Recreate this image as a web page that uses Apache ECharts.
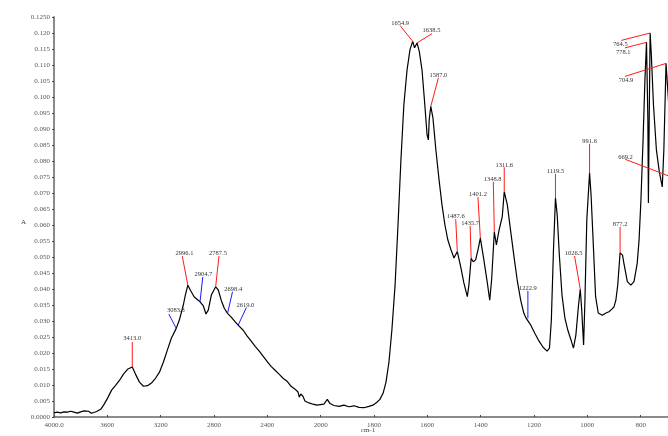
<!DOCTYPE html>
<html>
<head>
<meta charset="utf-8">
<script src="https://cdn.jsdelivr.net/npm/echarts@6/dist/echarts.min.js"></script>
<style>
  html, body { margin: 0; padding: 0; background: #fff; }
  #chart { width: 668px; height: 436px; }
</style>
</head>
<body>
<div id="chart"></div>
<script>
// IR absorbance spectrum (wavenumber in cm-1, absorbance A)
const wavenumbers = [
  4000, 3975, 3950, 3925, 3900, 3875, 3850, 3825, 3800, 3775, 3760, 3740, 3720, 3700, 3680, 3665, 3650,
  3628, 3598, 3568, 3538, 3508, 3479, 3449, 3413.0, 3389, 3359, 3329, 3299, 3269, 3239, 3209, 3180,
  3150, 3120, 3083.3, 3060, 3030, 3015, 2996.1, 2977, 2948, 2904.7, 2880, 2860, 2843, 2820, 2787.5,
  2768, 2746, 2723, 2698.4, 2671, 2641, 2619.0, 2581, 2551, 2521, 2491, 2461, 2432, 2402, 2372, 2342,
  2312, 2282, 2252, 2222, 2192, 2170, 2160, 2150, 2133, 2118, 2103, 2088, 2073, 2058, 2043, 2028, 2013,
  1988, 1975, 1965, 1950, 1931, 1913, 1894, 1875, 1856, 1838, 1819, 1804, 1789, 1778, 1766, 1755,
  1744, 1733, 1721, 1710, 1699, 1688, 1676, 1665, 1654.9, 1648, 1638.5, 1630, 1620, 1611, 1601, 1596,
  1593, 1587.0, 1579, 1568, 1556, 1545, 1534, 1523, 1511, 1500, 1495, 1487.6, 1475, 1463, 1450, 1444,
  1435.7, 1428, 1419, 1410, 1401.2, 1388, 1375, 1366, 1359, 1348.8, 1341, 1331, 1319, 1311.6, 1300,
  1288, 1275, 1263, 1250, 1238, 1229, 1222.9, 1212, 1197, 1181, 1166, 1151, 1142, 1135, 1127, 1119.5,
  1113, 1105, 1095, 1084, 1073, 1061, 1052, 1043, 1033, 1026.5, 1021, 1014, 1009, 1002, 991.6, 986,
  980, 969, 959, 944, 930, 919, 908, 900, 893, 886, 877.2, 868, 863, 850, 837, 825, 813, 806, 799,
  791, 784, 778.1, 773, 771, 768, 764.5, 760, 752, 741, 730, 719, 713, 704.9, 696, 681, 669.2, 650,
  620, 600
];
const absorbance = [
  0.0013, 0.0015, 0.0013, 0.0016, 0.0015, 0.0018, 0.0015, 0.0012, 0.0016, 0.0019, 0.0014, 0.0018, 0.0012, 0.0014, 0.0017, 0.0019, 0.0024,
  0.0037, 0.0059, 0.0084, 0.0099, 0.0115, 0.0134, 0.0149, 0.0156, 0.0134, 0.0109, 0.0096, 0.0098, 0.0106, 0.0121, 0.0140, 0.0171,
  0.0209, 0.0246, 0.0277, 0.0303, 0.0350, 0.0381, 0.0412, 0.0396, 0.0375, 0.0360, 0.0347, 0.0322, 0.0334, 0.0381, 0.0407,
  0.0397, 0.0365, 0.0340, 0.0324, 0.0312, 0.0297, 0.0287, 0.0271, 0.0253, 0.0237, 0.0221, 0.0206, 0.0190, 0.0174, 0.0158, 0.0146,
  0.0134, 0.0121, 0.0112, 0.0096, 0.0087, 0.0078, 0.0062, 0.0072, 0.0065, 0.0050, 0.0056, 0.0044, 0.0049, 0.0040, 0.0046, 0.0037, 0.0043,
  0.0040, 0.0055, 0.0042, 0.0036, 0.0033, 0.0037, 0.0032, 0.0035, 0.0030, 0.0029, 0.0033, 0.0037, 0.0046, 0.0055, 0.0074, 0.0109,
  0.0171, 0.0271, 0.0412, 0.0600, 0.0804, 0.0976, 0.1085, 0.1148, 0.1174, 0.1154, 0.1169, 0.1142, 0.1085, 0.0992, 0.0882, 0.0866,
  0.0929, 0.0971, 0.0935, 0.0835, 0.0741, 0.0663, 0.0600, 0.0553, 0.0522, 0.0497, 0.0500, 0.0517, 0.0470, 0.0419, 0.0376, 0.0413,
  0.0496, 0.0485, 0.0491, 0.0522, 0.0559, 0.0491, 0.0419, 0.0365, 0.0428, 0.0579, 0.0538, 0.0584, 0.0626, 0.0704, 0.0663,
  0.0584, 0.0501, 0.0428, 0.0365, 0.0324, 0.0308, 0.0308, 0.0287, 0.0262, 0.0237, 0.0218, 0.0206, 0.0215, 0.0302, 0.0522, 0.0684,
  0.0631, 0.0506, 0.0381, 0.0309, 0.0271, 0.0240, 0.0215, 0.0256, 0.0350, 0.0399, 0.0334, 0.0225, 0.0365, 0.0616, 0.0762, 0.0694,
  0.0584, 0.0376, 0.0325, 0.0318, 0.0325, 0.0329, 0.0337, 0.0344, 0.0365, 0.0412, 0.0513, 0.0506, 0.0481, 0.0423, 0.0412, 0.0423, 0.0480, 0.0553, 0.0678,
  0.0866, 0.1054, 0.1171, 0.0929, 0.0669, 0.0929, 0.1200, 0.1132, 0.0976, 0.0835, 0.0766, 0.0719, 0.0835, 0.1105, 0.0992, 0.0835, 0.0745, 0.0663,
  0.0584, 0.0537
];

// Picked bands: red = peak, blue = shoulder
const peakPositions = [
  3413.0, 3083.3, 2996.1, 2904.7, 2787.5, 2698.4, 2619.0,
  1654.9, 1638.5, 1587.0, 1487.6, 1435.7, 1401.2, 1348.8, 1311.6, 1222.9,
  1119.5, 1026.5, 991.6, 877.2, 778.1, 764.5, 704.9, 669.2
];
const peakKinds = [
  'peak', 'shoulder', 'peak', 'shoulder', 'peak', 'shoulder', 'shoulder',
  'peak', 'peak', 'peak', 'peak', 'peak', 'peak', 'peak', 'peak', 'shoulder',
  'peak', 'peak', 'peak', 'peak', 'peak', 'peak', 'peak', 'peak'
];
// Leader layout: [line dx, line dy, text dx, text dy] in pixels
const leaderLayout = [
  [0, -25, 0, -4], [-7.4, -14.3, 7, -4], [-5.6, -29, 2.3, -2.5], [2.7, -24.7, 0.6, -3],
  [3.3, -30.7, -1, -2.5], [5, -21.6, 0.7, -2.7], [8.3, -17.7, -1, -2.5],
  [-12.6, -15.7, 0, -2.5], [15, -9.3, -0.6, -3], [7.6, -28.4, 0, -2.5], [-1.6, -32.4, 0, -3.3],
  [-1, -32.3, 0, -2.5], [-2.4, -41, 0, -2.5], [-1, -50, -0.7, -2.7], [0, -24.4, 0, -2.5],
  [0, -27.6, 0, -3], [0, -24.3, 0, -2.5], [-5.7, -33.3, -1, -2.5], [0, -29.3, 0, -2.5],
  [0, -26, 0, -2.7], [-21.5, 5.6, -1.7, 4.4], [-28.8, 7.4, -1, 4.3], [-41, 13, 1, 4],
  [-50.3, -19.3, 0.3, -2]
];

const xTickValues = [4000, 3600, 3200, 2800, 2400, 2000, 1800, 1600, 1400, 1200, 1000, 800, 600];
const yTickStep = 0.005;

// The wavenumber axis is compressed by half above 2000 cm-1
function toAxis(w) { return w > 2000 ? 2000 + (w - 2000) / 2 : w; }
function fromAxis(u) { return u > 2000 ? 2000 + (u - 2000) * 2 : u; }

const spectrum = wavenumbers.map((w, i) => [toAxis(w), absorbance[i]]);
const peaks = peakPositions.map((w, i) => [toAxis(w), absorbance[wavenumbers.indexOf(w)], i]);

const serif = '"Liberation Serif", "DejaVu Serif", serif';
const chart = echarts.init(document.getElementById('chart'), null, { renderer: 'canvas' });

chart.setOption({
  animation: false,
  backgroundColor: '#ffffff',
  grid: { left: 54, right: -26, top: 17, bottom: 19, containLabel: false, outerBoundsMode: 'none' },
  xAxis: {
    type: 'value',
    inverse: true,
    min: toAxis(600),
    max: toAxis(4000),
    interval: 200,
    name: 'cm-1',
    nameLocation: 'middle',
    nameGap: 10,
    nameMoveOverlap: false,
    nameTextStyle: { fontFamily: serif, fontSize: 7, color: '#444', padding: [0, 12, 0, 0] },
    axisLine: { show: true, lineStyle: { color: '#666', width: 1.5 } },
    axisTick: { show: true, inside: true, length: 2, lineStyle: { color: '#444' } },
    axisLabel: {
      fontFamily: serif, fontSize: 7, color: '#555', margin: 5,
      formatter: function (u) {
        const w = Math.round(fromAxis(u));
        if (xTickValues.indexOf(w) < 0) return '';
        return w === 4000 ? '4000.0' : String(w);
      }
    },
    splitLine: { show: false }
  },
  yAxis: {
    type: 'value',
    min: 0,
    max: 0.125,
    interval: yTickStep,
    name: 'A',
    nameLocation: 'middle',
    nameRotate: 0,
    nameGap: 28,
    nameMoveOverlap: false,
    nameTextStyle: { fontFamily: serif, fontSize: 7, color: '#444', verticalAlign: 'top', padding: [2, 0, 0, 0] },
    axisLine: { show: true, lineStyle: { color: '#8a8a8a', width: 2 } },
    axisTick: { show: true, length: 2, lineStyle: { color: '#444' } },
    axisLabel: {
      fontFamily: serif, fontSize: 7, color: '#555', margin: 4,
      formatter: function (v) {
        if (v < 1e-9) return '0.0000';
        if (v > 0.1249) return '0.1250';
        return v.toFixed(3);
      }
    },
    splitLine: { show: false }
  },
  series: [
    {
      type: 'line',
      data: spectrum,
      showSymbol: false,
      symbol: 'none',
      lineStyle: { color: '#000', width: 1.2 },
      z: 2
    },
    {
      type: 'custom',
      data: peaks,
      z: 3,
      renderItem: function (params, api) {
        const i = api.value(2);
        const p = api.coord([api.value(0), api.value(1)]);
        const L = leaderLayout[i];
        const ex = p[0] + L[0], ey = p[1] + L[1];
        const color = peakKinds[i] === 'peak' ? '#ff1a1a' : '#1a1aff';
        return {
          type: 'group',
          children: [
            { type: 'line', shape: { x1: p[0], y1: p[1], x2: ex, y2: ey },
              style: { stroke: color, lineWidth: 1 } },
            { type: 'text', x: ex + L[2], y: ey + L[3],
              style: { text: peakPositions[i].toFixed(1), fill: '#333',
                       font: '6.5px ' + serif, align: 'center', verticalAlign: 'middle' } }
          ]
        };
      }
    }
  ]
});
</script>
</body>
</html>
